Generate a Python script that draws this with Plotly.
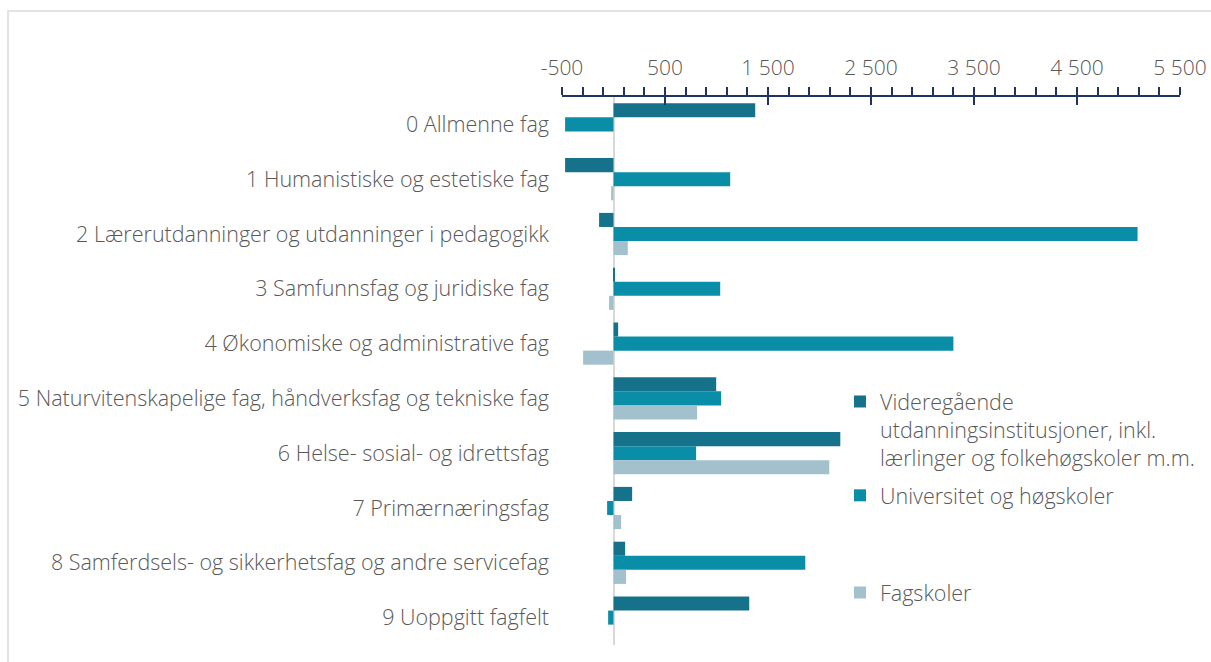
import plotly.graph_objects as go

categories = [
    "0 Allmenne fag",
    "1 Humanistiske og estetiske fag",
    "2 Lærerutdanninger og utdanninger i pedagogikk",
    "3 Samfunnsfag og juridiske fag",
    "4 Økonomiske og administrative fag",
    "5 Naturvitenskapelige fag, håndverksfag og tekniske fag",
    "6 Helse- sosial- og idrettsfag",
    "7 Primærnæringsfag",
    "8 Samferdsels- og sikkerhetsfag og andre servicefag",
    "9 Uoppgitt fagfelt",
]
series_names = [
    "Videregående<br>utdanningsinstitusjoner, inkl.<br>lærlinger og folkehøgskoler m.m.",
    "Universitet og høgskoler",
    "Fagskoler",
]
videregaende = [1376, -470, -140, 15, 45, 997, 2202, 181, 113, 1318]
universitet = [-470, 1133, 5088, 1036, 3300, 1045, 802, -62, 1862, -52]
fagskoler = [0, -23, 139, -43, -295, 812, 2095, 74, 122, 0]

tick_vals = [-500, 500, 1500, 2500, 3500, 4500, 5500]
tick_text = ["-500", "500", "1 500", "2 500", "3 500", "4 500", "5 500"]

colors = ["#15728a", "#0a8ea8", "#a3c1cc"]
font_family = "Open Sans, Lato, sans-serif"
text_color = "#595959"
axis_color = "#1f3461"
fs = 21.5

fig = go.Figure()
for i, (name, vals, col, lg) in enumerate(zip(series_names, [videregaende, universitet, fagskoler], colors,
                                              ["legend", "legend", "legend2"])):
    fig.add_trace(go.Bar(
        y=categories, x=vals, name=name, orientation="h",
        marker=dict(color=col, line=dict(width=0)),
        legend=lg, legendgroup=f"g{i}",
    ))

L, R, T, B = 562, 31, 97, 17
W, H = 1211, 662
pw = W - L - R
ph = H - T - B

fig.update_layout(
    width=W, height=H, autosize=False,
    margin=dict(l=L, r=R, t=T, b=B, autoexpand=False),
    paper_bgcolor="white", plot_bgcolor="white",
    barmode="group", bargap=0.23, bargroupgap=0,
    font=dict(family=font_family, size=fs, color=text_color, weight=300),
    xaxis=dict(
        side="top", range=[-500, 5500], automargin=False,
        tickvals=tick_vals, ticktext=tick_text,
        ticks="outside", ticklen=8, tickwidth=2, tickcolor=axis_color,
        minor=dict(dtick=200, tick0=-500, ticks="outside", ticklen=8, tickwidth=2, tickcolor=axis_color),
        showline=True, linecolor=axis_color, linewidth=2,
        showgrid=False, zeroline=True, zerolinecolor="#d9d9d9", zerolinewidth=2,
        tickfont=dict(size=fs - 0.5, color=text_color, weight=300),
        ticklabelstandoff=4,
    ),
    xaxis2=dict(
        overlaying="x", side="top", anchor="y", range=[-500, 5500], automargin=False,
        tickvals=tick_vals, showticklabels=False,
        ticks="inside", ticklen=8, tickwidth=2, tickcolor=axis_color,
        showgrid=False, zeroline=False, showline=False,
    ),
    yaxis=dict(
        autorange="reversed", showgrid=False, zeroline=False, showline=False, automargin=False,
        ticks="", tickfont=dict(size=fs, color=text_color, weight=300), ticklabelstandoff=12,
    ),
    legend=dict(
        x=(840 - L) / pw, y=(645 - 381) / ph, xanchor="left", yanchor="top",
        valign="top", traceorder="grouped", tracegroupgap=7, bgcolor="rgba(0,0,0,0)",
        font=dict(size=fs, color=text_color, weight=300), itemwidth=30,
    ),
    legend2=dict(
        x=(840 - L) / pw, y=(645 - 572) / ph, xanchor="left", yanchor="top",
        bgcolor="rgba(0,0,0,0)", font=dict(size=fs, color=text_color, weight=300), itemwidth=30,
    ),
    shapes=[dict(
        type="rect", xref="paper", yref="paper",
        x0=(8 - L) / pw, x1=(W + 5 - L) / pw,
        y0=(645 - (H + 5)) / ph, y1=(645 - 11) / ph,
        line=dict(color="#e3e3e3", width=2), layer="below",
    )],
)
# invisible trace so that the overlaid tick axis renders
fig.add_trace(go.Scatter(x=[None], y=[None], xaxis="x2", showlegend=False, hoverinfo="skip"))

fig.write_html(
    "out.html",
    config={"displayModeBar": False, "responsive": False},
    post_script="document.body.style.margin='0';document.body.style.padding='0';"
                "document.body.style.overflow='hidden';",
)
